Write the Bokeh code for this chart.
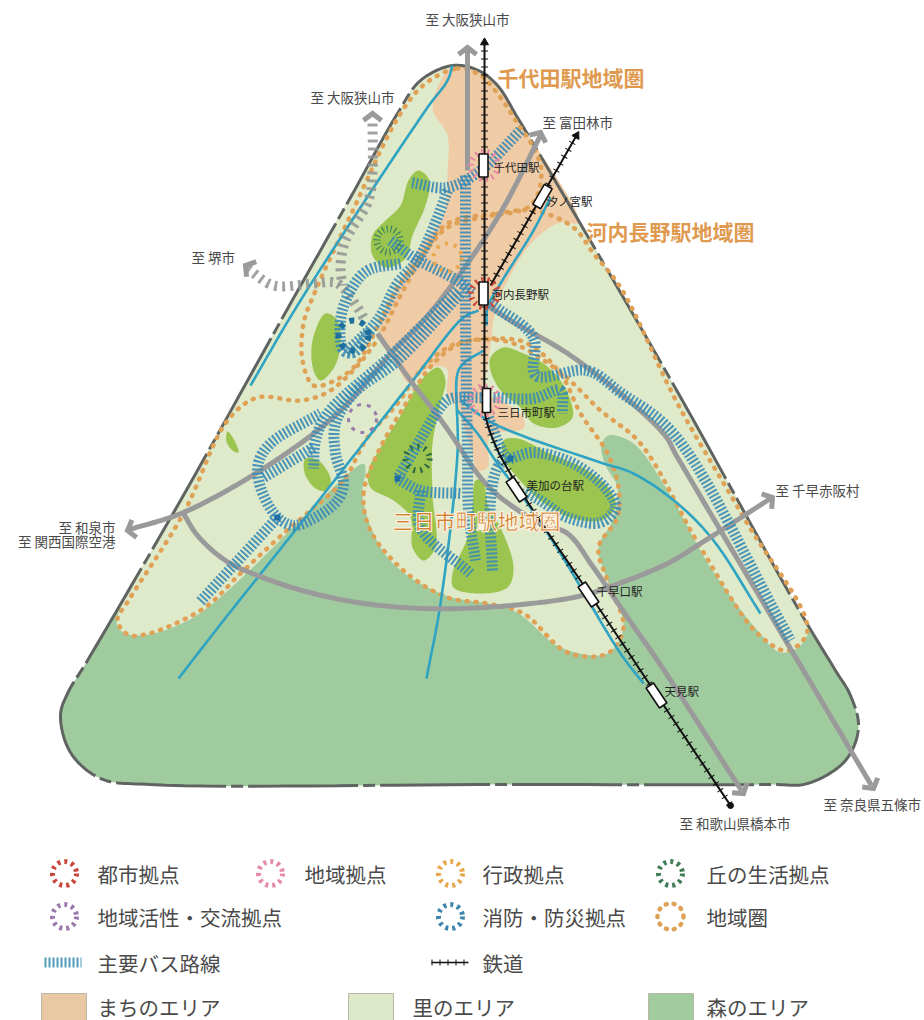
import numpy as np
from bokeh.plotting import figure
from bokeh.core.properties import value
from bokeh.embed import file_html
from bokeh.resources import INLINE

# ---------- map geometry (pixel coordinates of the map) ----------
OUTLINE = [(452,65),(478,70),(497,85),(517,117),(613,280),(683,402),(797,607),(835,670),(850,695),(858,727),(845,760),(807,783),(770,784),
           (500,784),(150,784),(100,778),(70,752),(60,715),(67,693),(87,660),(180,500),(290,303),(350,197),(397,113),(420,80)]
SATO = [(452,66),(478,71),(497,86),(517,118),(613,281),(683,403),(797,608),(808,628),(800,645),(780,652),(757,630),(710,567),
        (667,490),(633,443),(608,435),(601,445),(605,465),(617,487),(612,520),(598,547),(607,580),(623,627),(607,653),(560,647),
        (513,610),(440,593),(387,557),(362,497),(365,470),(363,463),(193,617),(135,635),(118,628),(117,615),(180,500),(290,303),(397,113),(420,80)]
MACHI = [(452,66),(478,71),(497,86),(517,118),(578,222),(560,222),(533,240),(507,280),(495,310),(490,345),(486,395),(497,398),
         (523,418),(523,428),(490,435),(487,467),(478,470),(468,440),(455,405),(447,395),(446,368),(430,367),(408,382),(395,362),
         (378,335),(395,290),(420,245),(443,215),(447,170),(447,135),(432,107)]
HILL_A = [(408,180),(418,170),(429,180),(425,205),(412,235),(405,258),(385,267),(372,255),(372,235),(385,220),(400,205)]
HILL_B = [(325,313),(337,320),(340,345),(333,368),(320,380),(313,370),(312,340)]
HILL_C = [(227,431),(234,440),(238,452),(232,450),(226,441)]
HILL_D = [(305,458),(318,460),(330,478),(327,490),(315,488),(304,472)]
HILL_E = [(438,367),(445,380),(440,403),(432,443),(432,493),(435,547),(423,560),(412,547),(410,517),(393,500),(370,487),(368,470),(380,447),(397,420),(423,377)]
HILL_F = [(490,357),(503,347),(523,353),(543,363),(560,380),(570,400),(572,417),(557,427),(533,423),(520,407),(500,390),(490,370)]
HILL_G = [(503,440),(517,438),(547,452),(587,470),(610,490),(615,507),(600,520),(570,517),(540,500),(517,477),(503,457)]
HILL_H = [(475,480),(482,480),(488,507),(500,527),(513,567),(507,587),(477,593),(453,587),(452,573),(467,537),(472,507)]

RIVERS = [
    [(452,65),(447,80),(427,107),(300,300),(250,385)],
    [(178,678),(223,620),(297,527),(410,383),(463,317),(478,310)],
    [(426,678),(440,603),(457,453),(457,373),(463,363),(483,350)],
    [(457,410),(477,433),(497,463),(527,503),(560,553),(620,653),(643,683)],
    [(460,400),(493,423),(600,462),(633,473),(677,503),(713,540),(760,613)],
    [(550,197),(533,230),(500,283),(487,307),(486,325)],
]
ROADS = [
    [(467,50),(467,170)],
    [(540,135),(503,207),(467,263),(423,320),(393,350),(337,413),(263,468),(183,512),(129,529)],
    [(183,513),(197,535),(225,560),(257,575),(313,593),(380,605),(460,608),(573,597),(613,585),(667,563),(700,543),(770,498)],
    [(377,333),(410,380),(443,423),(480,477),(500,497),(540,523),(567,533),(593,567),(627,617),(657,660),(741,790)],
    [(487,305),(510,320),(573,357),(663,433),(677,457),(871,785)],
]
ROADS_PLANNED = [
    [(372,123),(372,170),(368,200),(345,240),(340,265),(342,285)],
    [(247,268),(273,285),(313,283),(337,283),(357,307),(363,317)],
]
ARROW_TIPS = [((467,47),(467,60)),((540,132),(534,145)),((127,530),(142,526)),((772,497),(760,505)),
              ((743,793),(735,781)),((873,788),(866,776)),((372,113),(372,125)),((245,265),(256,272))]
BUS = [
    [(520,130),(480,170),(447,187),(410,182)],
    [(447,190),(437,217),(417,260),(397,283),(377,320),(345,352)],
    [(457,290),(393,353),(327,413),(315,440),(313,468)],
    [(460,293),(397,360),(353,393),(335,423),(335,453),(343,483),(337,500),(313,518),(293,525),(277,517),(260,487),(258,462),(270,443),(320,413)],
    [(313,447),(263,477)],
    [(277,517),(199,602)],
    [(400,263),(367,270),(350,290),(340,320),(343,350),(353,352),(370,330)],
    [(390,240),(413,257),(457,280),(472,292)],
    [(465,175),(465,320),(467,450),(468,510),(475,560)],
    [(492,570),(490,500),(497,467),(507,457)],
    [(490,303),(533,337),(535,375),(587,370),(620,392),(673,433),(790,640)],
    [(493,397),(533,398),(560,390),(562,413)],
    [(488,417),(503,453),(510,460)],
    [(510,458),(533,452),(573,463),(607,490),(615,507),(600,522),(567,517),(540,500),(523,490)],
    [(485,397),(450,398),(443,403),(397,478)],
    [(397,478),(420,490),(460,493)],
    [(420,490),(420,527),(470,573)],
]
BUS_NODE_X = [397,277,510]
BUS_NODE_Y = [478,517,458]
RAIL_MAIN = [(484,42),(484,310),(484,395),(485,415),(495,445),(520,490),(590,595),(730,805)]
RAIL_BRANCH = [(576,135),(490,285)]
REGION_CHIYODA = [(457,68),(480,75),(500,97),(517,123),(533,147),(541,172),(530,205),(480,217),(447,227),(420,257),(397,287),
                  (380,320),(355,365),(330,382),(313,385),(302,360),(303,323),(313,295),(350,215),(400,113),(425,83)]
REGION_KAWACHI = [(497,213),(533,210),(573,227),(593,253),(620,287),(677,403),(745,520),(807,630),(787,650),(757,633),(700,547),
                  (640,443),(600,410),(560,372),(510,342),(470,340),(447,347),(420,370),(397,403),(367,437),(343,480),(310,510),
                  (283,533),(240,573),(200,610),(130,635),(117,620),(128,600),(183,513),(227,420),(257,397),(300,400),(330,390),
                  (373,345),(400,295),(425,250),(447,223)]
REGION_MIKKAICHI = [(363,493),(377,453),(403,407),(433,363),(460,343),(500,338),(527,343),(560,373),(580,413),(607,453),(618,487),
                    (617,517),(598,547),(607,580),(623,627),(607,653),(567,652),(523,613),(487,603),(447,597),(403,570),(370,530)]

# station name, x, y, label x, label y, box width, box height, tilt
ST_NAME = ["千代田駅","河内長野駅","汐ノ宮駅","三日市町駅","美加の台駅","千早口駅","天見駅"]
ST_X = [483,483,542,486,516,588,656]
ST_Y = [165,293,196,400,489,594,695]
ST_LX = [493,491,546,497,526,596,664]
ST_LY = [166,293,200,411,484,590,690]
ST_W = [9,9,9,8,9,9,9]
ST_H = [23,23,23,24,24,24,24]
ST_TILT = [0,0,-30,0,34,34,34]

# map hubs: x, y, size, colour, tick width, dash
HUB_X = [484,484,484,447,388,417,353,362]
HUB_Y = [293,165,400,257,240,458,335,418]
HUB_S = [27,27,28,28,23,24,30,28]
HUB_C = ["#c9463d","#e58aa6","#e58aa6","#e8a64c","#2e7a63","#2e6b45","#1f6f9e","#9a79ad"]
HUB_W = [6,6,6,4,7,6,6,3]
HUB_D = ["2 4","2 4","2 4","3 6","1 3","2 5","5 6","4 6"]

AREA_TITLES = ["千代田駅地域圏","河内長野駅地域圏"]
AREA_X = [497,586]
AREA_Y = [76,230]
AREA_HALO = ["三日市町駅地域圏"]
DEST = ["至 大阪狭山市","至 大阪狭山市","至 富田林市","至 堺市","至 千早赤阪村","至 奈良県五條市","至 和歌山県橋本市"]
DEST_X = [425,310,542,191,775,823,679]
DEST_Y = [18,96,121,256,489,803,822]
DEST_R = ["至 和泉市","至 関西国際空港"]
DEST_R_Y = [526,540]

LEG_RING_L = ["都市拠点","地域拠点","行政拠点","丘の生活拠点","地域活性・交流拠点","消防・防災拠点"]
LEG_RING_X = [64,270,450,670,64,450]
LEG_RING_Y = [873,873,873,873,916,916]
LEG_RING_TX = [97,304,482,706,97,482]
LEG_RING_C = ["#c9463d","#e58aa6","#e8a64c","#3f7d57","#9a79ad","#3d85ae"]
LEG_AREA_L = ["まちのエリア","里のエリア","森のエリア"]
LEG_AREA_L0 = [41,348,648]
LEG_AREA_R0 = [86,393,693]
LEG_AREA_TX = [97,412,706]
LEG_AREA_C = ["#e8c9a3","#dde9c9","#a2cc9f"]

FOREST, SATOC, MACHIC, HILLC = "#9fcb9e", "#dfeacb", "#efcba6", "#9cc54f"
DOTC, RIVERC, ROADC, BUSC, OUTC, TXT = "#dfa155", "#2ea3c2", "#9a9a9a", "#3a8bb5", "#5f6461", "#4a4a4a"
JP = value("Noto Sans CJK JP")


def cr(pts, closed=False, n=14):
    P = np.array(pts, float)
    if closed:
        P = np.vstack([P[-1:], P, P[:2]])
    else:
        P = np.vstack([2*P[0]-P[1], P, 2*P[-1]-P[-2]])
    out = []
    for i in range(len(P)-3):
        p0, p1, p2, p3 = P[i:i+4]
        t0 = 0.0
        t1 = t0 + np.linalg.norm(p1-p0)**0.5
        t2 = t1 + np.linalg.norm(p2-p1)**0.5
        t3 = t2 + np.linalg.norm(p3-p2)**0.5
        for t in np.linspace(t1, t2, n, endpoint=False):
            a1 = (t1-t)/(t1-t0)*p0 + (t-t0)/(t1-t0)*p1
            a2 = (t2-t)/(t2-t1)*p1 + (t-t1)/(t2-t1)*p2
            a3 = (t3-t)/(t3-t2)*p2 + (t-t2)/(t3-t2)*p3
            b1 = (t2-t)/(t2-t0)*a1 + (t-t0)/(t2-t0)*a2
            b2 = (t3-t)/(t3-t1)*a2 + (t-t1)/(t3-t1)*a3
            out.append((t2-t)/(t2-t1)*b1 + (t-t1)/(t2-t1)*b2)
    if closed:
        out.append(out[0])
    else:
        out.append(P[-2])
    a = np.array(out)
    return a[:, 0].tolist(), a[:, 1].tolist()


p = figure(width=924, height=1020, x_range=(0, 924), y_range=(1020, 0), output_backend="svg",
           toolbar_location=None, min_border=0, outline_line_color=None, background_fill_color="white",
           border_fill_color="white")
p.axis.visible = False
p.grid.visible = False

# areas
x, y = cr(OUTLINE, True)
p.patch(x, y, fill_color=FOREST, line_color=None)
for pts, c in [(SATO, SATOC), (MACHI, MACHIC)]:
    x, y = cr(pts, True)
    p.patch(x, y, fill_color=c, line_color=None)
for pts in [HILL_A, HILL_B, HILL_C, HILL_D, HILL_E, HILL_F, HILL_G, HILL_H]:
    x, y = cr(pts, True)
    p.patch(x, y, fill_color=HILLC, line_color=None)
x, y = cr(OUTLINE, True)
p.line(x, y, line_color=OUTC, line_width=3, line_dash="110 5 12 5")

# dotted regions
for pts in [REGION_CHIYODA, REGION_KAWACHI, REGION_MIKKAICHI]:
    x, y = cr(pts, True)
    p.line(x, y, line_color=DOTC, line_width=4.5, line_dash="1 8", line_cap="round")

# rivers
for pts in RIVERS:
    x, y = cr(pts)
    p.line(x, y, line_color=RIVERC, line_width=2.6)

# roads
for pts in ROADS:
    x, y = cr(pts)
    p.line(x, y, line_color=ROADC, line_width=5)
for pts in ROADS_PLANNED:
    x, y = cr(pts)
    p.line(x, y, line_color="#8f9391", line_width=10, line_dash="3 5", line_alpha=0.85)
for tip, back in ARROW_TIPS:
    t, b = np.array(tip, float), np.array(back, float)
    d = (t-b)/np.linalg.norm(t-b)
    nrm = np.array([-d[1], d[0]])
    l = t-d*7+nrm*9
    r = t-d*7-nrm*9
    p.line([l[0], t[0], r[0]], [l[1], t[1], r[1]], line_color=ROADC, line_width=5, line_join="miter")

# bus routes as hatched bands
for pts in BUS:
    x, y = cr(pts)
    p.line(x, y, line_color=BUSC, line_width=11, line_dash="2 2", line_alpha=0.9)
p.scatter(BUS_NODE_X, BUS_NODE_Y, marker="square", size=5, color="#1d6fa5")

# railway
for pts in [RAIL_MAIN, RAIL_BRANCH]:
    x, y = cr(pts)
    p.line(x, y, line_color="#111111", line_width=2)
    p.line(x, y, line_color="#111111", line_width=7, line_dash="1 7")
p.scatter([RAIL_MAIN[0][0]], [RAIL_MAIN[0][1]], marker="triangle", size=8, color="#111111")
p.scatter([RAIL_BRANCH[0][0]], [RAIL_BRANCH[0][1]], marker="triangle", size=8, angle=-0.52, color="#111111")
p.scatter([RAIL_MAIN[-1][0]], [RAIL_MAIN[-1][1]], marker="circle", size=6, color="#111111")

# hubs
for hx, hy, hs, hc, hw, hd in zip(HUB_X, HUB_Y, HUB_S, HUB_C, HUB_W, HUB_D):
    p.scatter([hx], [hy], size=hs, marker="circle", fill_color=None, line_color=hc, line_width=hw, line_dash=hd)

# stations
p.rect(ST_X, ST_Y, width=ST_W, height=ST_H, width_units="screen", height_units="screen",
       angle=np.radians(ST_TILT).tolist(), fill_color="white", line_color="#111111", line_width=1.6)
p.text(ST_LX, ST_LY, text=ST_NAME, text_font=JP, text_font_size="11.5px", text_color="#222222",
       text_align="left", text_baseline="middle")

# labels
p.text(AREA_X, AREA_Y, text=AREA_TITLES, text_font=JP, text_font_size="21px", text_font_style="bold",
       text_color="#e09a50", text_align="left", text_baseline="middle")
p.text([392], [519], text=AREA_HALO, text_font=JP, text_font_size="21px", text_font_style="bold",
       text_color="#d07f2e", text_outline_color="#fff4e6", text_align="left", text_baseline="middle")
p.text(DEST_X, DEST_Y, text=DEST, text_font=JP, text_font_size="13.5px", text_color=TXT,
       text_align="left", text_baseline="middle")
p.text([115, 115], DEST_R_Y, text=DEST_R, text_font=JP, text_font_size="13.5px", text_color=TXT,
       text_align="right", text_baseline="middle")

# legend
p.scatter(LEG_RING_X, LEG_RING_Y, size=24, marker="circle", fill_color=None, line_color=LEG_RING_C,
          line_width=5, line_dash="3 4")
p.text(LEG_RING_TX, LEG_RING_Y, text=LEG_RING_L, text_font=JP, text_font_size="20.5px", text_color=TXT,
       text_align="left", text_baseline="middle")
p.scatter([670], [916], size=26, marker="circle", fill_color=None, line_color=DOTC, line_width=4.5,
          line_dash="1 7", line_cap="round")
p.text([706], [916], text=["地域圏"], text_font=JP, text_font_size="20.5px", text_color=TXT,
       text_align="left", text_baseline="middle")
p.line([44, 81], [962, 962], line_color="#4f9bb8", line_width=10, line_dash="2 2")
p.text([97], [962], text=["主要バス路線"], text_font=JP, text_font_size="20.5px", text_color=TXT,
       text_align="left", text_baseline="middle")
p.line([431, 468], [962, 962], line_color="#111111", line_width=1.6)
p.line([431, 468], [962, 962], line_color="#111111", line_width=6, line_dash="1 7")
p.text([482], [962], text=["鉄道"], text_font=JP, text_font_size="20.5px", text_color=TXT,
       text_align="left", text_baseline="middle")
p.quad(left=LEG_AREA_L0, right=LEG_AREA_R0, top=[993]*3, bottom=[1020]*3, fill_color=LEG_AREA_C,
       line_color="#b8b8a8", line_width=1)
p.text(LEG_AREA_TX, [1006]*3, text=LEG_AREA_L, text_font=JP, text_font_size="20.5px", text_color=TXT,
       text_align="left", text_baseline="middle")

open("out.html", "w").write(file_html(p, INLINE))
